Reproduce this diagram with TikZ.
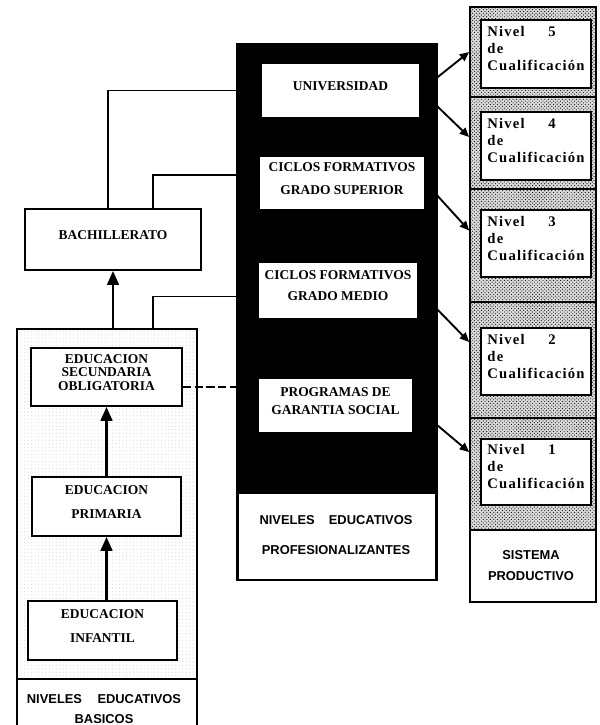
\documentclass[tikz,border=0pt]{standalone}
\usepackage{fontspec}
\setmainfont{Liberation Serif}
\setsansfont{Liberation Sans}
\newfontfamily\nivelfont[LetterSpace=8]{Liberation Serif}
\usetikzlibrary{arrows.meta,fit,patterns,calc}
\newcommand\unitpx{0.03cm}
\newlength\cualwd
\newcommand\nivtext[1]{\settowidth{\cualwd}{Cualificación}\global\cualwd=\cualwd
  \makebox[\cualwd][l]{\makebox[52pt][l]{Nivel}#1}\\\makebox[\cualwd][l]{de}\\Cualificación}
\tikzset{
  frame/.style={draw, line width=1.5pt, inner sep=0pt},
  box/.style={frame, fill=white, align=center, font=\fontsize{11.5}{13}\selectfont\bfseries},
  nivbox/.style={draw, line width=2pt, fill=white, inner sep=0pt, align=center, font=\nivelfont\fontsize{12.5}{14.5}\selectfont\bfseries},
  cell/.style={frame, preaction={fill=gray!28}, pattern=crosshatch dots, pattern color=black},
  tag/.style={align=center, font=\sffamily\fontsize{11}{13}\selectfont\bfseries},
  link/.style={line width=1.4pt},
  uparrow/.style={line width=2.2pt, -{Triangle[length=12pt,width=10pt]}},
  toniv/.style={line width=1.6pt, -{Triangle[length=8pt,width=7pt]}},
}
\begin{document}
\begin{tikzpicture}[x=\unitpx, y=-\unitpx]
\useasboundingbox (0,0) rectangle (600,725);

% basic levels
\node[frame, pattern=dots, pattern color=gray!30, fit={(17,329) (197,734)}] (lcol) {};
\node[frame, fill=white, fit={(17,679) (197,734)}] (lbl) {};
\node[tag] (lbltxt) at (104,709) {NIVELES\hspace{1.2em}EDUCATIVOS\\[4pt]BASICOS};
\node[box, fit={(31,348) (182,406)}] (eso) {EDUCACION\\[-1.5pt]SECUNDARIA\\[-1.5pt]OBLIGATORIA};
\node[box, fit={(32,477) (181,536)}] (primaria) {EDUCACION\\[8pt]PRIMARIA};
\node[box, fit={(28,601) (177,660)}] (infantil) {EDUCACION\\[8pt]INFANTIL};
\node[box, fit={(25,209) (201,270)}] (bach) {BACHILLERATO};

% professional levels
\node[frame, fill=black, fit={(237,44) (437,580)}] (mcol) {};
\node[draw, line width=2.5pt, fill=white, inner sep=0pt, fit={(238,493) (436,580)}] (mlbl) {};
\node[tag] (mlbltxt) at (336,535) {NIVELES\hspace{1.1em}EDUCATIVOS\\[12pt]PROFESIONALIZANTES};
\node[box, fit={(261,63) (420,118)}] (univ) {UNIVERSIDAD};
\node[box, fit={(259,156) (425,210)}] (ciclsup) {CICLOS FORMATIVOS\\[6pt]GRADO SUPERIOR};
\node[box, fit={(258,262) (418,319)}] (ciclmed) {CICLOS FORMATIVOS\\[5pt]GRADO MEDIO};
\node[box, fit={(258,378) (413,433)}] (prog) {PROGRAMAS DE\\[2pt]GARANTIA SOCIAL};

% productive system
\node[frame, fit={(470,7) (596,602)}] (rcol) {};
\foreach \n/\ct/\cb/\bt/\bb in {5/7/97/20/88, 4/97/189/112/180, 3/189/302/210/277, 2/302/418/328/395, 1/418/530/439/505}
{
  \node[cell, fit={(470,\ct) (596,\cb)}] (cell\n) {};
  \node[nivbox, fit={(481,\bt) (591,\bb)}] (niv\n) {\nivtext{\n}};
}
\node[frame, fill=white, fit={(470,530) (596,602)}] (rlbl) {};
\node[tag] (rlbltxt) at (531,566) {SISTEMA\\[5pt]PRODUCTIVO};

% connectors
\draw[uparrow] (infantil.north -| primaria.south) -- (primaria.south);
\draw[uparrow] (primaria.north) -- (eso.south);
\draw[uparrow] (lcol.north -| bach.south) -- (bach.south);
\draw[link] ([xshift=-5*\unitpx]bach.north) |- (univ -| mcol.west);
\draw[link] ([xshift=40*\unitpx]bach.north) |- ($(ciclsup.west -| mcol.west)+(0,-8)$);
\draw[link] ($(lcol.north)+(46,0)$) |- ($(ciclmed.west -| mcol.west)+(0,6)$);
\draw[link, dash pattern=on 7pt off 3pt] ($(eso.east)+(0,10)$) -- ($(eso.east -| mcol.west)+(0,10)$);

\draw[toniv] (univ.east) -- (cell5.west);
\draw[toniv] (univ.east) -- ($(cell4.west)+(0,-6)$);
\draw[toniv] (ciclsup.east) -- ($(cell3.west)+(0,-15)$);
\draw[toniv] (ciclmed.east) -- ($(cell2.west)+(0,-18)$);
\draw[toniv] (prog.east) -- ($(cell1.west)+(0,-22)$);
\end{tikzpicture}
\end{document}
